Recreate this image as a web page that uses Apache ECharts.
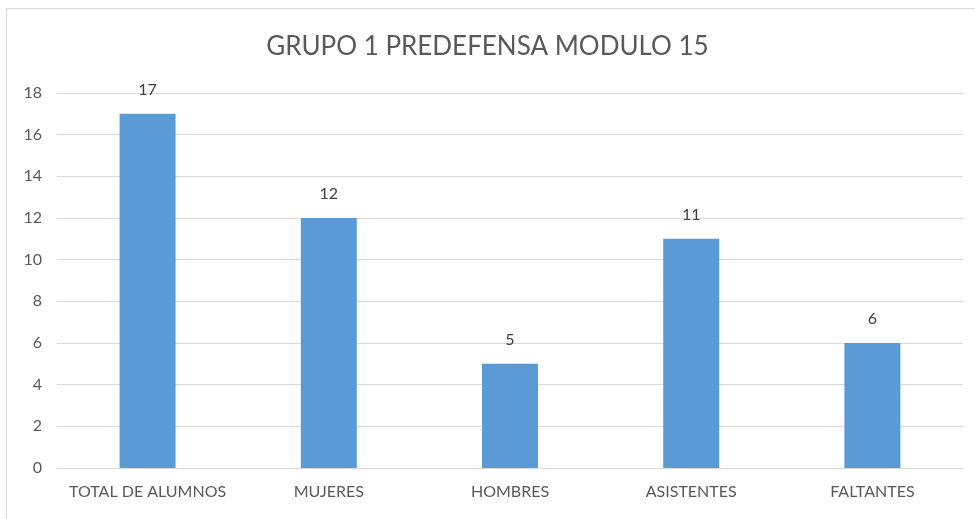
<!DOCTYPE html>
<html>
<head>
<meta charset="UTF-8">
<title>Grupo 1 Predefensa Modulo 15</title>
<script type="text/javascript" src="https://cdn.jsdelivr.net/npm/echarts@6/dist/echarts.min.js"></script>
<style>
  html, body { margin: 0; padding: 0; background: #fff; }
  #frame { position: absolute; left: 6px; top: 8px; width: 990px; height: 540px; border: 1px solid #d9d9d9; }
  #main { position: absolute; left: 0; top: 0; width: 975px; height: 519px; }
</style>
</head>
<body>
<div id="frame"></div>
<div id="main"></div>
<script type="text/javascript">
  var categories = ['TOTAL DE ALUMNOS', 'MUJERES', 'HOMBRES', 'ASISTENTES', 'FALTANTES'];
  var values = [17, 12, 5, 11, 6];
  var yTicks = { min: 0, max: 18, interval: 2 };

  var myChart = echarts.init(document.getElementById('main'));
  var font = 'Lato, "Open Sans", sans-serif';

  var option = {
    animation: false,
    title: {
      text: 'GRUPO 1 PREDEFENSA MODULO 15',
      left: 'center',
      top: 29,
      textStyle: { color: '#595959', fontSize: 26, fontWeight: 'normal', fontFamily: font }
    },
    grid: { left: 57, right: 12, top: 93, bottom: 51 },
    xAxis: {
      type: 'category',
      data: categories,
      axisLine: { lineStyle: { color: '#d9d9d9' } },
      axisTick: { show: false },
      axisLabel: { color: '#595959', fontSize: 16, fontFamily: font, margin: 16, interval: 0 }
    },
    yAxis: {
      type: 'value',
      min: yTicks.min,
      max: yTicks.max,
      interval: yTicks.interval,
      axisLine: { show: false },
      axisTick: { show: false },
      splitLine: { lineStyle: { color: '#d9d9d9' } },
      axisLabel: { color: '#595959', fontSize: 16, fontFamily: font, margin: 15 }
    },
    series: [{
      type: 'bar',
      data: values,
      barWidth: 56,
      itemStyle: { color: '#5b9bd5' },
      label: {
        show: true,
        position: 'top',
        distance: 16,
        color: '#404040',
        fontSize: 16,
        fontFamily: font
      }
    }]
  };

  myChart.setOption(option);
</script>
</body>
</html>
